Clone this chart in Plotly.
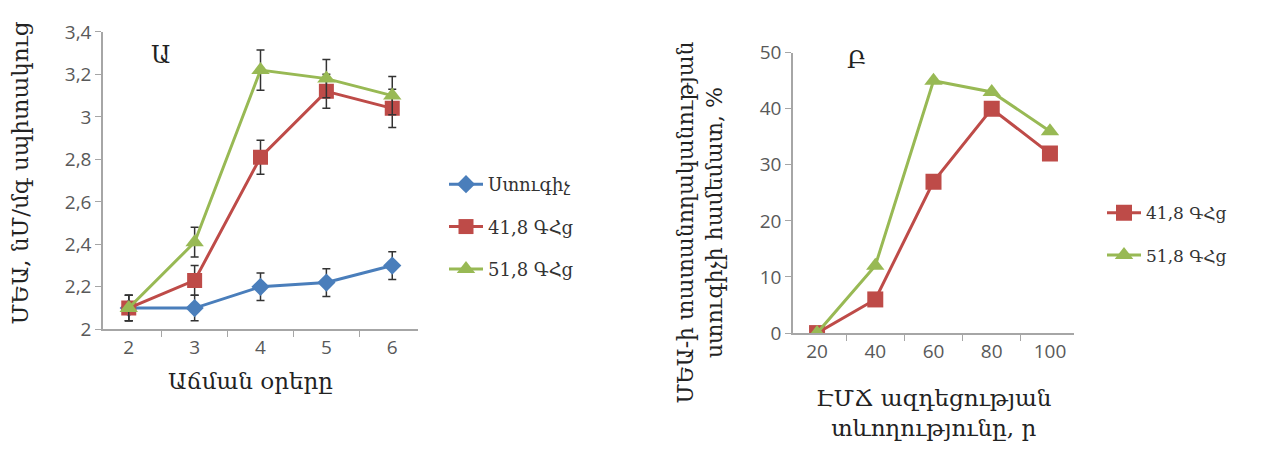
import plotly.graph_objects as go

# ---- Panel A data ----
days = ["2", "3", "4", "5", "6"]
control = [2.10, 2.10, 2.20, 2.22, 2.30]
control_err = [0.06, 0.06, 0.065, 0.065, 0.065]
g418 = [2.10, 2.23, 2.81, 3.12, 3.04]
g418_err = [0.06, 0.07, 0.08, 0.08, 0.09]
g518 = [2.10, 2.41, 3.22, 3.18, 3.10]
g518_err = [0.06, 0.07, 0.095, 0.09, 0.09]
a_yticks = [2.0, 2.2, 2.4, 2.6, 2.8, 3.0, 3.2, 3.4]
a_yticktext = ["2", "2,2", "2,4", "2,6", "2,8", "3", "3,2", "3,4"]

# ---- Panel B data ----
durations = ["20", "40", "60", "80", "100"]
b418 = [0, 6, 27, 40, 32]
b518 = [0, 12, 45, 43, 36]
b_yticks = [0, 10, 20, 30, 40, 50]

names = ["Ստուգիչ", "41,8 ԳՀց", "51,8 ԳՀց"]
BLUE = "#4a7ebb"
RED = "#be4b48"
GREEN = "#98b954"
SERIF = "DejaVu Serif"
TICKFONT = dict(family="Open Sans", size=19, color="#595959")

fig = go.Figure()

def err(vals):
    return dict(type="data", array=vals, visible=True, color="#333333", thickness=1.5, width=4)

fig.add_trace(go.Scatter(x=days, y=control, name=names[0], mode="lines+markers",
                         line=dict(color=BLUE, width=3), marker=dict(symbol="diamond", size=14, color=BLUE),
                         error_y=err(control_err), xaxis="x", yaxis="y", legend="legend", legendgroup="a1"))
fig.add_trace(go.Scatter(x=days, y=g418, name=names[1], mode="lines+markers",
                         line=dict(color=RED, width=3), marker=dict(symbol="square", size=15, color=RED),
                         error_y=err(g418_err), xaxis="x", yaxis="y", legend="legend", legendgroup="a2"))
fig.add_trace(go.Scatter(x=days, y=g518, name=names[2], mode="lines+markers",
                         line=dict(color=GREEN, width=3), marker=dict(symbol="triangle-up", size=16, color=GREEN),
                         error_y=err(g518_err), xaxis="x", yaxis="y", legend="legend", legendgroup="a3"))

fig.add_trace(go.Scatter(x=durations, y=b418, name=names[1], mode="lines+markers",
                         line=dict(color=RED, width=3), marker=dict(symbol="square", size=16, color=RED),
                         xaxis="x2", yaxis="y2", legend="legend2", legendgroup="b1"))
fig.add_trace(go.Scatter(x=durations, y=b518, name=names[2], mode="lines+markers",
                         line=dict(color=GREEN, width=3), marker=dict(symbol="triangle-up", size=16, color=GREEN),
                         xaxis="x2", yaxis="y2", legend="legend2", legendgroup="b2"))

axis_common = dict(showline=True, linecolor="#a6a6a6", linewidth=1.5, ticks="outside",
                   tickcolor="#a6a6a6", ticklen=6, showgrid=False, zeroline=False, tickfont=TICKFONT)

fig.update_layout(
    width=1280, height=466,
    margin=dict(l=0, r=0, t=0, b=0),
    paper_bgcolor="white", plot_bgcolor="white",
    xaxis=dict(domain=[103/1280, 418/1280], type="category", tickson="boundaries",
               anchor="y", **axis_common),
    yaxis=dict(domain=[1-335/466, 1-20/466], range=[2, 3.4], tickvals=a_yticks,
               ticktext=a_yticktext, anchor="x", **axis_common),
    xaxis2=dict(domain=[793/1280, 1074/1280], type="category", tickson="boundaries",
                anchor="y2", **axis_common),
    yaxis2=dict(domain=[1-339/466, 1-42/466], range=[0, 50], tickvals=b_yticks,
                anchor="x2", **axis_common),
    legend=dict(x=444/1280, y=1-162/466, xanchor="left", yanchor="top",
                font=dict(family=SERIF, size=18, color="#333333"),
                traceorder="grouped", tracegroupgap=16, itemwidth=34, bgcolor="rgba(0,0,0,0)"),
    legend2=dict(x=1102/1280, y=1-193/466, xanchor="left", yanchor="top",
                 font=dict(family=SERIF, size=17, color="#333333"),
                 traceorder="grouped", tracegroupgap=17, itemwidth=34, bgcolor="rgba(0,0,0,0)"),
    showlegend=True,
)

ann = [
    dict(text="Ա", x=160/1280, y=1-45/466, size=24),
    dict(text="Բ", x=856/1280, y=1-50/466, size=24),
    dict(text="Աճման օրերը", x=250/1280, y=1-390/466, size=23),
    dict(text="ԷՄՃ ազդեցության<br>տևողությունը, ր", x=933/1280, y=1-424/466, size=23),
]
for a in ann:
    fig.add_annotation(text=a["text"], x=a["x"], y=a["y"], xref="paper", yref="paper",
                       showarrow=False, font=dict(family=SERIF, size=a["size"], color="#222222"),
                       xanchor="center", yanchor="middle")

fig.add_annotation(text="ՄԵԱ, նՄ/մգ սպիտակուց", x=20/1280, y=1-170/466, xref="paper", yref="paper",
                   showarrow=False, textangle=-90, font=dict(family=SERIF, size=23, color="#222222"),
                   xanchor="center", yanchor="middle")
fig.add_annotation(text="ՄԵԱ-ի տատանողականության<br>ստուգիչի համեմատ, %", x=700/1280, y=1-222/466,
                   xref="paper", yref="paper", showarrow=False, textangle=-90,
                   font=dict(family=SERIF, size=22, color="#222222"),
                   xanchor="center", yanchor="middle")

fig.write_html("out.html")
